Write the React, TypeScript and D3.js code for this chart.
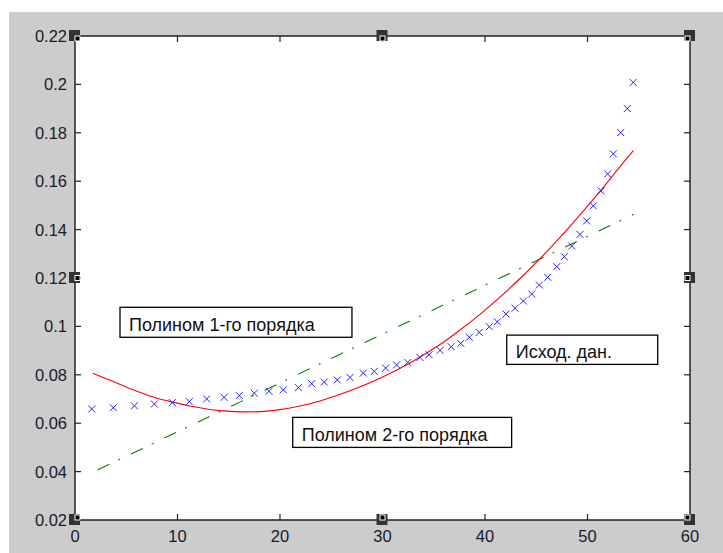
import React from "react";
import * as d3 from "d3";

// axis ticks
const xTicks = [0, 10, 20, 30, 40, 50, 60];
const xTickLabels = ["0", "10", "20", "30", "40", "50", "60"];
const yTicks = [0.02, 0.04, 0.06, 0.08, 0.1, 0.12, 0.14, 0.16, 0.18, 0.2, 0.22];
const yTickLabels = ["0.02", "0.04", "0.06", "0.08", "0.1", "0.12", "0.14", "0.16", "0.18", "0.2", "0.22"];

// source data (blue x markers)
const dataX = [
  1.63, 3.74, 5.79, 7.74, 9.49, 11.15, 12.85, 14.54, 16.03, 17.49,
  18.93, 20.32, 21.79, 23.09, 24.32, 25.59, 26.83, 28.13, 29.2, 30.31,
  31.38, 32.46, 33.66, 34.54, 35.61, 36.7, 37.63, 38.47, 39.44, 40.42,
  41.2, 42.05, 42.93, 43.74, 44.56, 45.3, 46.12, 47.0, 47.74, 48.46,
  49.27, 49.92, 50.57, 51.32, 51.97, 52.52, 53.24, 53.88, 54.46,
];
const dataY = [
  0.0659, 0.0664, 0.0672, 0.0679, 0.0685, 0.0689, 0.07, 0.0707, 0.0714, 0.0724,
  0.0732, 0.0738, 0.0747, 0.0763, 0.077, 0.0779, 0.0789, 0.0807, 0.0814, 0.0828,
  0.0841, 0.0851, 0.0872, 0.0883, 0.0901, 0.0916, 0.093, 0.0955, 0.0975, 0.0999,
  0.1019, 0.1051, 0.1075, 0.1105, 0.1134, 0.1171, 0.1203, 0.1247, 0.1288, 0.1332,
  0.138, 0.1436, 0.1498, 0.156, 0.163, 0.1713, 0.1801, 0.19, 0.2008,
];

// 2nd order polynomial (red)
const quadX = [
  1.73, 3.74, 5.69, 7.64, 9.59, 11.22, 12.85, 14.15, 16.1, 18.05,
  20.0, 21.95, 23.9, 26.83, 29.76, 32.68, 35.61, 37.56, 39.51, 41.46,
  43.41, 45.37, 47.32, 49.27, 51.22, 53.17, 54.47,
];
const quadY = [
  0.0806, 0.0772, 0.0738, 0.0708, 0.0686, 0.0671, 0.0659, 0.0652, 0.0647, 0.0648,
  0.0656, 0.0671, 0.0692, 0.0734, 0.0786, 0.0849, 0.0925, 0.0985, 0.105, 0.1121,
  0.1198, 0.128, 0.1368, 0.1461, 0.1558, 0.166, 0.1726,
];

// 1st order polynomial (green dash-dot)
const linX = [2.2, 54.5];
const linY = [0.0407, 0.1463];

// annotation boxes (data coordinates)
const labelText = ["Полином 1-го порядка", "Полином 2-го порядка", "Исход. дан."];
const labelX0 = [4.39, 21.24, 42.12];
const labelX1 = [27.02, 42.6, 56.85];
const labelYTop = [0.1079, 0.0624, 0.0964];
const labelYBot = [0.0955, 0.05, 0.0843];

const W = 723;
const H = 553;
const font = "'Liberation Sans', Arial, sans-serif";

export default function App() {
  const x = d3.scaleLinear().domain([0, 60]).range([75, 690]);
  const y = d3.scaleLinear().domain([0.02, 0.22]).range([520, 36]);
  const [x0, x1] = x.range();
  const [y0, y1] = y.range();

  const line = d3
    .line<[number, number]>()
    .x((d) => x(d[0]))
    .y((d) => y(d[1]));

  const quadPath = line.curve(d3.curveCatmullRom)(quadX.map((v, i) => [v, quadY[i]]));
  const linPath = line.curve(d3.curveLinear)(linX.map((v, i) => [v, linY[i]]));

  const m = 3.5;
  const markers = dataX
    .map((v, i) => {
      const px = x(v);
      const py = y(dataY[i]);
      return `M${px - m},${py - m}L${px + m},${py + m}M${px + m},${py - m}L${px - m},${py + m}`;
    })
    .join("");

  // selection handles at corners and edge midpoints
  const hx = [0, 30, 60];
  const hy = [0.02, 0.12, 0.22];
  const handles: { cx: number; cy: number; dx: number; dy: number }[] = [];
  hx.forEach((a, i) =>
    hy.forEach((b, j) => {
      if (i === 1 && j === 1) return;
      handles.push({ cx: x(a), cy: y(b), dx: 1 - i, dy: j - 1 });
    })
  );

  return (
    <svg
      width={W}
      height={H}
      style={{ position: "absolute", left: 0, top: 0, display: "block" }}
    >
      <rect x={0} y={0} width={W} height={H} fill="#ffffff" />
      <rect x={9} y={12} width={W - 9} height={H - 12} fill="#cccccc" />
      <rect x={x0} y={y1} width={x1 - x0} height={y0 - y1} fill="#ffffff" />

      {/* ticks */}
      <g stroke="#222" strokeWidth={1.2}>
        {xTicks.map((t) => (
          <g key={"xt" + t}>
            <line x1={x(t)} x2={x(t)} y1={y0} y2={y0 - 6} />
            <line x1={x(t)} x2={x(t)} y1={y1} y2={y1 + 6} />
          </g>
        ))}
        {yTicks.map((t) => (
          <g key={"yt" + t}>
            <line x1={x0} x2={x0 + 6} y1={y(t)} y2={y(t)} />
            <line x1={x1} x2={x1 - 6} y1={y(t)} y2={y(t)} />
          </g>
        ))}
      </g>

      {/* lines */}
      <path d={linPath ?? ""} fill="none" stroke="#008000" strokeWidth={1.1} strokeDasharray="13,10,2,12" />
      <path d={quadPath ?? ""} fill="none" stroke="#ff0000" strokeWidth={1.1} />
      <path d={markers} fill="none" stroke="#2222ff" strokeWidth={1} />

      {/* annotation boxes */}
      {labelText.map((t, i) => {
        const bx = x(labelX0[i]);
        const by = y(labelYTop[i]);
        const bw = x(labelX1[i]) - bx;
        const bh = y(labelYBot[i]) - by;
        return (
          <g key={t}>
            <rect x={bx} y={by} width={bw} height={bh} fill="#ffffff" stroke="#000" strokeWidth={1.3} />
            <text x={bx + 9} y={by + bh - 6} fontFamily={font} fontSize={18} fill="#111">
              {t}
            </text>
          </g>
        );
      })}

      {/* frame */}
      <rect x={x0} y={y1} width={x1 - x0} height={y0 - y1} fill="none" stroke="#222" strokeWidth={1.5} />

      {/* handles */}
      {handles.map((h, i) => (
        <g key={"h" + i}>
          <rect x={h.cx - 6} y={h.cy - 6} width={11} height={11} fill="#333" />
          <rect
            x={h.dx > 0 ? h.cx : h.dx < 0 ? h.cx - 5 : h.cx - 2.5}
            y={h.dy > 0 ? h.cy : h.dy < 0 ? h.cy - 5 : h.cy - 2.5}
            width={5}
            height={5}
            fill="#000"
            stroke="#fff"
            strokeWidth={1}
          />
        </g>
      ))}

      {/* tick labels */}
      <g fontFamily={font} fontSize={16.5} fill="#1a1a2a">
        {xTicks.map((t, i) => (
          <text key={"xl" + t} x={x(t)} y={542} textAnchor="middle">
            {xTickLabels[i]}
          </text>
        ))}
        {yTicks.map((t, i) => (
          <text key={"yl" + t} x={67} y={y(t)} textAnchor="end" dominantBaseline="central">
            {yTickLabels[i]}
          </text>
        ))}
      </g>
    </svg>
  );
}
